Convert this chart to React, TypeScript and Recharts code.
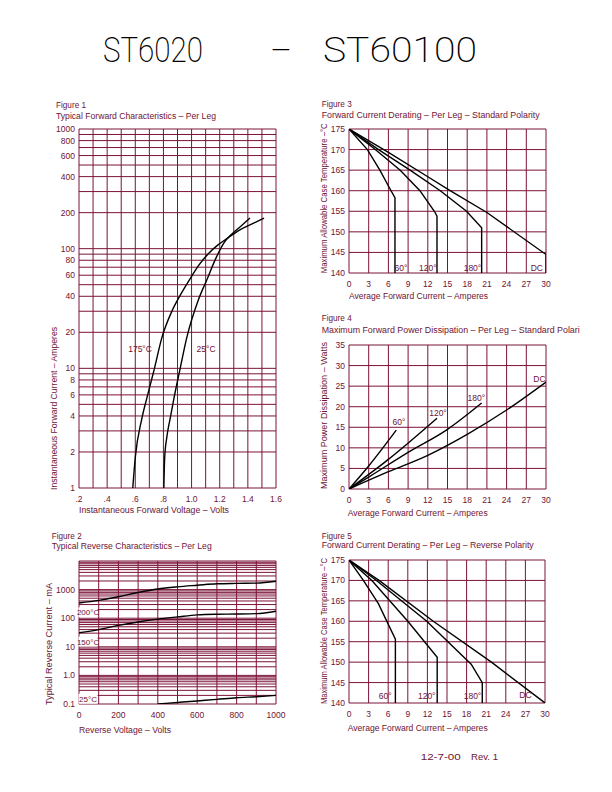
import React from 'react';
import { LineChart, Line, XAxis, YAxis, CartesianGrid, ReferenceDot } from 'recharts';

const INK = '#6e1434';
const GRID = '#7b1238';
const FONT = '"Liberation Sans", Arial, sans-serif';

// ---------- Figure 1: forward characteristics ----------
const f1XTicks = [0.2, 0.3, 0.4, 0.5, 0.6, 0.7, 0.8, 0.9, 1.0, 1.1, 1.2, 1.3, 1.4, 1.5, 1.6];
const f1XLabels = ['.2', '', '.4', '', '.6', '', '.8', '', '1.0', '', '1.2', '', '1.4', '', '1.6'];
const f1YTicks = [1, 2, 3, 4, 5, 6, 7, 8, 9, 10, 20, 30, 40, 50, 60, 70, 80, 90, 100, 200, 300, 400, 500, 600, 700, 800, 900, 1000];
const f1YLabels = ['1', '2', '', '4', '', '6', '', '8', '', '10', '20', '', '40', '', '60', '', '80', '', '100', '200', '', '400', '', '600', '', '800', '', '1000'];
const f1V175 = [0.582, 0.6, 0.646, 0.682, 0.735, 0.788, 0.86, 0.911, 0.989, 1.053, 1.117, 1.188, 1.261, 1.344, 1.43, 1.515];
const f1I175 = [1, 1.8, 3.77, 5.64, 9.85, 17.9, 30, 39.2, 55.9, 73.1, 90.3, 107.5, 123.7, 143.5, 161, 180];
const f1V25 = [0.803, 0.809, 0.825, 0.847, 0.875, 0.918, 0.965, 1.048, 1.108, 1.174, 1.23, 1.287, 1.344, 1.415];
const f1I25 = [1, 1.8, 2.7, 3.77, 5.64, 9.85, 17.9, 37.3, 54.8, 83.7, 111.7, 132.8, 152, 180];
const f1LabelText = ['175°C', '25°C'];
const f1LabelX = [0.634, 1.103];
const f1LabelY = [14.6, 14.6];

// ---------- Figure 2: reverse characteristics ----------
const f2XTicks = [0, 100, 200, 300, 400, 500, 600, 700, 800, 900, 1000];
const f2XLabels = ['0', '', '200', '', '400', '', '600', '', '800', '', '1000'];
const f2YTicks = [
  0.1, 0.2, 0.3, 0.4, 0.5, 0.6, 0.7, 0.8, 0.9,
  1, 2, 3, 4, 5, 6, 7, 8, 9,
  10, 20, 30, 40, 50, 60, 70, 80, 90,
  100, 200, 300, 400, 500, 600, 700, 800, 900,
  1000, 2000, 3000, 4000, 5000, 6000, 7000, 8000, 9000, 10000,
];
const f2YLabels = [
  '0.1', '', '', '', '', '', '', '', '',
  '1.0', '', '', '', '', '', '', '', '',
  '10', '', '', '', '', '', '', '', '',
  '100', '', '', '', '', '', '', '', '',
  '1000', '', '', '', '', '', '', '', '', '',
];
const f2V = [0, 100, 200, 300, 400, 500, 600, 700, 800, 900, 1000];
const f2Top = [340, 420, 560, 790, 1050, 1250, 1420, 1600, 1650, 1680, 1950];
const f2Mid = [31, 40, 56, 74, 93, 111, 131, 138, 140, 145, 176];
const f2LowV = [400, 500, 600, 700, 800, 900, 1000];
const f2Low = [0.1, 0.113, 0.128, 0.145, 0.165, 0.18, 0.2];
const f2LabelText = ['200°C', '150°C', '25°C'];
const f2LabelX = [46, 46, 46];
const f2LabelY = [160, 15.2, 0.153];

// ---------- Figure 3: derating, standard polarity ----------
const ampTicks = [0, 3, 6, 9, 12, 15, 18, 21, 24, 27, 30];
const tempTicks = [140, 145, 150, 155, 160, 165, 170, 175];
const f3X60 = [0, 2.8, 4.7, 6.4, 7, 7];
const f3Y60 = [175, 170, 165, 160, 158.3, 140];
const f3X120 = [0, 4, 7.8, 10.8, 13, 13.4, 13.4];
const f3Y120 = [175, 170, 165, 160, 155, 153.8, 140];
const f3X180 = [0, 4.5, 9.3, 13.9, 17.9, 20.2, 20.2];
const f3Y180 = [175, 170, 165, 160, 155, 151, 140];
const f3XDC = [0, 6, 12, 15.4, 21, 30, 30];
const f3YDC = [175, 169.3, 163.4, 160, 154.7, 144.5, 140];
const f3LabelText = ['60°', '120°', '180°', 'DC'];
const f3LabelX = [7.9, 12.0, 18.8, 28.6];
const f3LabelY = [141.1, 141.1, 141.1, 141.1];

// ---------- Figure 4: power dissipation ----------
const wattTicks = [0, 5, 10, 15, 20, 25, 30, 35];
const f4X60 = [0, 3, 7.2];
const f4Y60 = [0, 5.6, 14.3];
const f4X120 = [0, 6, 13.4];
const f4Y120 = [0, 7.2, 17.2];
const f4X180 = [0, 3, 9, 15, 20.2];
const f4Y180 = [0, 2.9, 8.9, 14.5, 20.9];
const f4XDC = [0, 6, 12, 18, 24, 30];
const f4YDC = [0, 4.2, 8.2, 13.3, 19.2, 26];
const f4LabelText = ['60°', '120°', '180°', 'DC'];
const f4LabelX = [7.6, 13.55, 19.4, 29.0];
const f4LabelY = [16.2, 18.4, 22.1, 26.8];

// ---------- Figure 5: derating, reverse polarity ----------
const f5X60 = [0, 2.2, 4.5, 7.1, 7.1];
const f5Y60 = [175, 170, 164.3, 155.6, 140];
const f5X120 = [0, 3.5, 9, 13.5, 13.5];
const f5Y120 = [175, 170, 160, 151.2, 140];
const f5X180 = [0, 4.2, 11.9, 18.7, 20.4, 20.4];
const f5Y180 = [175, 170, 160, 149.5, 145, 140];
const f5XDC = [0, 4.6, 12.9, 21.8, 30];
const f5YDC = [175, 170, 160, 150, 140];
const f5LabelText = ['60°', '120°', '180°', 'DC'];
const f5LabelX = [5.55, 11.9, 18.9, 27.0];
const f5LabelY = [141.6, 141.6, 141.6, 142.0];

const pts = (xs: number[], ys: number[]) => xs.map((x, i) => ({ x, y: ys[i] }));

const Y_W = 34;
const X_H = 22;
const M_T = 4;
const M_R = 14;
const tickStyle = { fill: INK, fontSize: 8.5, fontFamily: FONT };

function Panel(props: { pL: number; pT: number; pR: number; pB: number; children: any }) {
  const { pL, pT, pR, pB, children } = props;
  const width = pR - pL + Y_W + M_R;
  const height = pB - pT + M_T + X_H;
  return (
    <div style={{ position: 'absolute', left: pL - Y_W, top: pT - M_T, width, height }}>
      <LineChart width={width} height={height} margin={{ top: M_T, right: M_R, left: 0, bottom: 0 }}>
        {children}
      </LineChart>
    </div>
  );
}

const curve = (key: string, data: any[], type: any) => (
  <Line
    key={key}
    data={data}
    dataKey="y"
    type={type}
    stroke="#000"
    strokeWidth={1.4}
    dot={false}
    activeDot={false}
    isAnimationActive={false}
  />
);

const textLabel = (key: string, x: number, y: number, text: string) => (
  <ReferenceDot
    key={key}
    x={x}
    y={y}
    r={0}
    fill="none"
    stroke="none"
    label={{ value: text, position: 'center', fill: INK, fontSize: 8.5, fontFamily: FONT }}
  />
);

const boxContent = (text: string) => (p: any) => {
  const vb = p.viewBox || { x: 0, y: 0, width: 0, height: 0 };
  const cx = vb.x + (vb.width || 0) / 2;
  const cy = vb.y + (vb.height || 0) / 2;
  return (
    <g>
      <rect x={cx - 9.5} y={cy - 5} width={19} height={10} fill="#fff" />
      <text x={cx} y={cy + 3} textAnchor="middle" fill={INK} fontSize={8} fontFamily={FONT}>
        {text}
      </text>
    </g>
  );
};

const boxLabel = (key: string, x: number, y: number, text: string) => (
  <ReferenceDot key={key} x={x} y={y} r={0} fill="none" stroke="none" label={{ content: boxContent(text) }} />
);

function T(props: { x: number; y: number; w?: number; size?: number; rot?: boolean; children: any }) {
  const { x, y, w, size = 8.5, rot, children } = props;
  const common: any = {
    fill: INK,
    fontSize: size,
    fontFamily: FONT,
  };
  if (w) {
    common.textLength = w;
    common.lengthAdjust = 'spacingAndGlyphs';
  }
  if (rot) {
    return (
      <text transform={`translate(${x},${y}) rotate(-90)`} {...common}>
        {children}
      </text>
    );
  }
  return (
    <text x={x} y={y} {...common}>
      {children}
    </text>
  );
}

export default function App() {
  const xAxisCommon = {
    type: 'number' as const,
    dataKey: 'x',
    interval: 0 as const,
    tickLine: false,
    axisLine: false,
    tickSize: 4,
    tickMargin: 4,
    height: X_H,
    tick: tickStyle,
    allowDataOverflow: true,
  };
  const yAxisCommon = {
    type: 'number' as const,
    interval: 0 as const,
    tickLine: false,
    axisLine: false,
    tickSize: 2,
    tickMargin: 2,
    width: Y_W,
    tick: tickStyle,
    allowDataOverflow: true,
  };
  const grid = <CartesianGrid stroke={GRID} strokeWidth={1} />;

  return (
    <div style={{ position: 'absolute', left: 0, top: 0, width: 612, height: 792, background: '#fff', fontFamily: FONT }}>
      {/* Figure 1 */}
      <Panel pL={79} pT={129} pR={276} pB={488}>
        {grid}
        <XAxis {...xAxisCommon} domain={[0.2, 1.6]} ticks={f1XTicks} tickFormatter={(v: any, i: number) => f1XLabels[i]} />
        <YAxis {...yAxisCommon} scale="log" domain={[1, 1000]} ticks={f1YTicks} tickFormatter={(v: any, i: number) => f1YLabels[i]} />
        {curve('c175', pts(f1V175, f1I175), 'monotone')}
        {curve('c25', pts(f1V25, f1I25), 'monotone')}
        {f1LabelText.map((t, i) => textLabel('l1' + i, f1LabelX[i], f1LabelY[i], t))}
      </Panel>

      {/* Figure 2 */}
      <Panel pL={79} pT={561} pR={276} pB={704}>
        {grid}
        <XAxis {...xAxisCommon} domain={[0, 1000]} ticks={f2XTicks} tickFormatter={(v: any, i: number) => f2XLabels[i]} />
        <YAxis {...yAxisCommon} scale="log" domain={[0.1, 10000]} ticks={f2YTicks} tickFormatter={(v: any, i: number) => f2YLabels[i]} />
        {curve('top', pts(f2V, f2Top), 'monotone')}
        {curve('mid', pts(f2V, f2Mid), 'monotone')}
        {curve('low', pts(f2LowV, f2Low), 'monotone')}
        {f2LabelText.map((t, i) => boxLabel('l2' + i, f2LabelX[i], f2LabelY[i], t))}
      </Panel>

      {/* Figure 3 */}
      <Panel pL={349} pT={129} pR={546} pB={273}>
        {grid}
        <XAxis {...xAxisCommon} domain={[0, 30]} ticks={ampTicks} />
        <YAxis {...yAxisCommon} domain={[140, 175]} ticks={tempTicks} />
        {curve('a', pts(f3X60, f3Y60), 'linear')}
        {curve('b', pts(f3X120, f3Y120), 'linear')}
        {curve('c', pts(f3X180, f3Y180), 'linear')}
        {curve('d', pts(f3XDC, f3YDC), 'linear')}
        {f3LabelText.map((t, i) => textLabel('l3' + i, f3LabelX[i], f3LabelY[i], t))}
      </Panel>

      {/* Figure 4 */}
      <Panel pL={349} pT={345} pR={546} pB={489}>
        {grid}
        <XAxis {...xAxisCommon} domain={[0, 30]} ticks={ampTicks} />
        <YAxis {...yAxisCommon} domain={[0, 35]} ticks={wattTicks} />
        {curve('a', pts(f4X60, f4Y60), 'monotone')}
        {curve('b', pts(f4X120, f4Y120), 'monotone')}
        {curve('c', pts(f4X180, f4Y180), 'monotone')}
        {curve('d', pts(f4XDC, f4YDC), 'monotone')}
        {f4LabelText.map((t, i) => textLabel('l4' + i, f4LabelX[i], f4LabelY[i], t))}
      </Panel>

      {/* Figure 5 */}
      <Panel pL={349} pT={560} pR={545} pB={703}>
        {grid}
        <XAxis {...xAxisCommon} domain={[0, 30]} ticks={ampTicks} />
        <YAxis {...yAxisCommon} domain={[140, 175]} ticks={tempTicks} />
        {curve('a', pts(f5X60, f5Y60), 'linear')}
        {curve('b', pts(f5X120, f5Y120), 'linear')}
        {curve('c', pts(f5X180, f5Y180), 'linear')}
        {curve('d', pts(f5XDC, f5YDC), 'linear')}
        {f5LabelText.map((t, i) => textLabel('l5' + i, f5LabelX[i], f5LabelY[i], t))}
      </Panel>

      {/* Page text */}
      <svg width={612} height={792} style={{ position: 'absolute', left: 0, top: 0, pointerEvents: 'none' }}>
        <g fill="#000" fontFamily="Roboto, 'Liberation Sans', sans-serif" fontWeight={200} fontSize={35}>
          <text x={103} y={62} textLength={100} lengthAdjust="spacingAndGlyphs">ST6020</text>
          <text x={270} y={62} textLength={22} lengthAdjust="spacingAndGlyphs">–</text>
          <text x={323} y={62} textLength={154} lengthAdjust="spacingAndGlyphs">ST60100</text>
        </g>

        <T x={56} y={108.3} w={30}>Figure 1</T>
        <T x={56} y={119.3} w={160}>Typical Forward Characteristics – Per Leg</T>
        <T x={51.7} y={539.3} w={30}>Figure 2</T>
        <T x={51.7} y={549} w={160}>Typical Reverse Characteristics – Per Leg</T>
        <T x={321.7} y={107.3} w={30}>Figure 3</T>
        <T x={321.7} y={117.7} w={218}>Forward Current Derating – Per Leg – Standard Polarity</T>
        <T x={321.7} y={321} w={30}>Figure 4</T>
        <T x={321.7} y={333.3} w={258}>Maximum Forward Power Dissipation – Per Leg – Standard Polari</T>
        <T x={321.7} y={539.3} w={30}>Figure 5</T>
        <T x={321.7} y={548.3} w={212}>Forward Current Derating – Per Leg – Reverse Polarity</T>

        <T x={79} y={513} w={150}>Instantaneous Forward Voltage – Volts</T>
        <T x={79} y={732.7} w={92}>Reverse Voltage – Volts</T>
        <T x={349} y={299.3} w={139}>Average Forward Current – Amperes</T>
        <T x={347.7} y={515.7} w={140}>Average Forward Current – Amperes</T>
        <T x={347.7} y={730.7} w={140}>Average Forward Current – Amperes</T>

        <T x={56.5} y={490} w={163} rot>Instantaneous Forward Current – Amperes</T>
        <T x={51.5} y={705} w={122} rot>Typical Reverse Current – mA</T>
        <T x={326.5} y={273.3} w={150} rot>Maximum Allowable Case Temperature –°C</T>
        <T x={326.5} y={489} w={147} rot>Maximum Power Dissipation – Watts</T>
        <T x={326.5} y={704} w={146} rot>Maximum Allowable Case Temperature –°C</T>

        <T x={420.7} y={760} w={40}>12-7-00</T>
        <T x={471} y={760} w={27}>Rev. 1</T>
      </svg>
    </div>
  );
}
